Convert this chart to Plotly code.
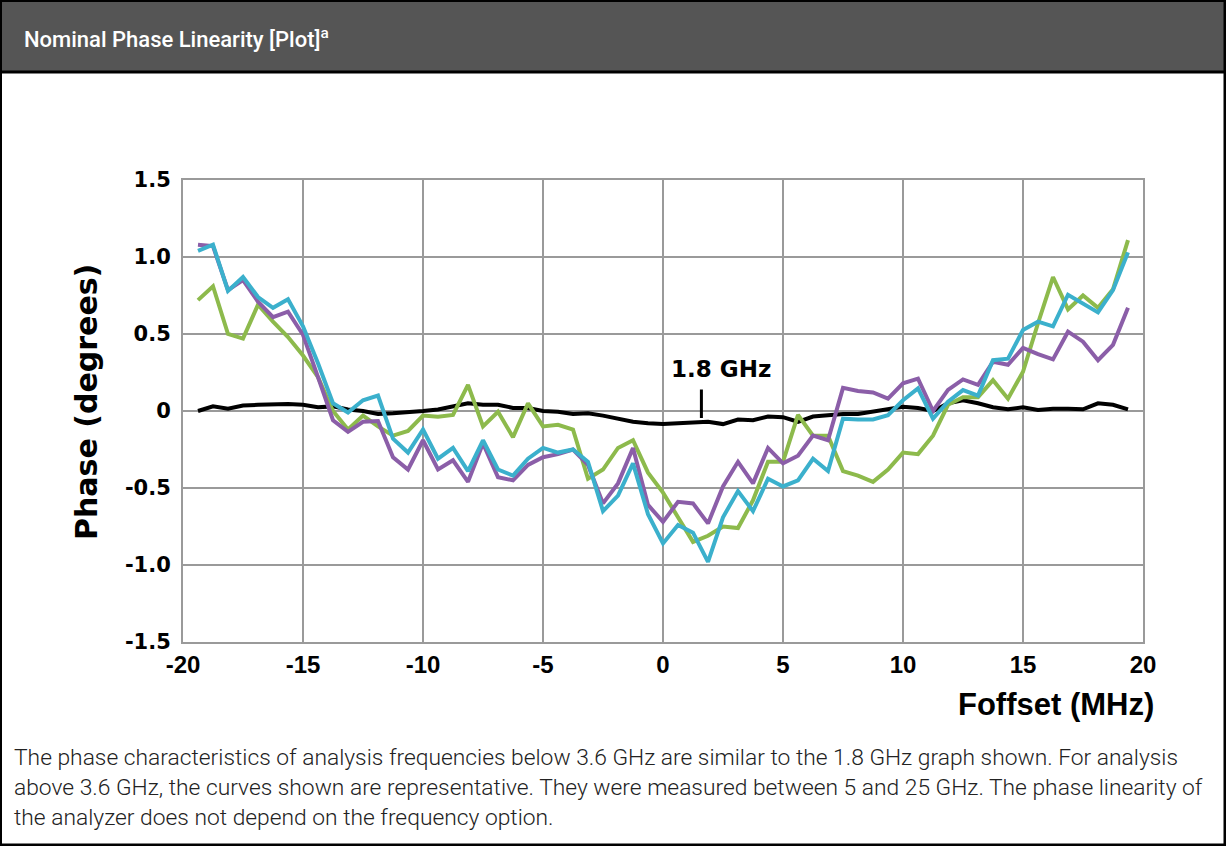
import plotly.graph_objects as go

# frequency offset grid (MHz)
foffset = [-19.375, -18.75, -18.125, -17.5, -16.875, -16.25, -15.625, -15.0,
           -14.375, -13.75, -13.125, -12.5, -11.875, -11.25, -10.625, -10.0,
           -9.375, -8.75, -8.125, -7.5, -6.875, -6.25, -5.625, -5.0,
           -4.375, -3.75, -3.125, -2.5, -1.875, -1.25, -0.625, 0.0,
           0.625, 1.25, 1.875, 2.5, 3.125, 3.75, 4.375, 5.0,
           5.625, 6.25, 6.875, 7.5, 8.125, 8.75, 9.375, 10.0,
           10.625, 11.25, 11.875, 12.5, 13.125, 13.75, 14.375, 15.0,
           15.625, 16.25, 16.875, 17.5, 18.125, 18.75, 19.375]

# phase (degrees), 1.8 GHz curve
phase_1g8 = [0.0, 0.03, 0.015, 0.035, 0.04, 0.045, 0.045, 0.04,
             0.025, 0.03, 0.01, 0.0, -0.02, -0.015, -0.01, 0.0,
             0.01, 0.03, 0.05, 0.04, 0.04, 0.02, 0.02, 0.0,
             -0.005, -0.02, -0.015, -0.03, -0.05, -0.07, -0.08, -0.085,
             -0.08, -0.075, -0.07, -0.085, -0.055, -0.06, -0.036, -0.04,
             -0.07, -0.036, -0.025, -0.02, -0.02, -0.004, 0.017, 0.028,
             0.02, 0.0, 0.05, 0.07, 0.05, 0.024, 0.011, 0.024,
             0.006, 0.015, 0.015, 0.011, 0.05, 0.04, 0.011]

# representative curves above 3.6 GHz
phase_green = [0.72, 0.81, 0.50, 0.47, 0.69, 0.58, 0.48, 0.36,
               0.22, 0.0, -0.12, -0.03, -0.10, -0.16, -0.13, -0.03,
               -0.037, -0.026, 0.17, -0.10, -0.005, -0.17, 0.05, -0.10,
               -0.09, -0.12, -0.44, -0.38, -0.24, -0.19, -0.40, -0.53,
               -0.69, -0.85, -0.81, -0.75, -0.76, -0.58, -0.33, -0.33,
               -0.025, -0.16, -0.16, -0.39, -0.42, -0.46, -0.38, -0.27,
               -0.28, -0.16, 0.04, 0.09, 0.09, 0.20, 0.08, 0.255,
               0.57, 0.87, 0.66, 0.75, 0.67, 0.79, 1.11]

phase_purple = [1.08, 1.07, 0.785, 0.85, 0.71, 0.61, 0.645, 0.495,
                0.22, -0.06, -0.135, -0.07, -0.065, -0.30, -0.38, -0.19,
                -0.38, -0.32, -0.46, -0.21, -0.43, -0.45, -0.35, -0.30,
                -0.28, -0.25, -0.35, -0.60, -0.47, -0.24, -0.61, -0.72,
                -0.59, -0.60, -0.73, -0.49, -0.33, -0.47, -0.24, -0.34,
                -0.29, -0.16, -0.19, 0.15, 0.13, 0.12, 0.08, 0.18,
                0.21, 0.0, 0.137, 0.205, 0.17, 0.32, 0.30, 0.41,
                0.37, 0.335, 0.515, 0.45, 0.33, 0.43, 0.67]

phase_cyan = [1.04, 1.08, 0.78, 0.87, 0.74, 0.67, 0.725, 0.55,
              0.31, 0.05, -0.01, 0.07, 0.10, -0.18, -0.27, -0.12,
              -0.31, -0.24, -0.39, -0.19, -0.38, -0.42, -0.31, -0.24,
              -0.27, -0.25, -0.33, -0.65, -0.55, -0.34, -0.67, -0.86,
              -0.74, -0.79, -0.98, -0.69, -0.52, -0.65, -0.44, -0.49,
              -0.45, -0.31, -0.39, -0.05, -0.055, -0.055, -0.027, 0.07,
              0.147, -0.05, 0.06, 0.136, 0.10, 0.33, 0.34, 0.526,
              0.58, 0.55, 0.755, 0.70, 0.64, 0.785, 1.03]

x_ticks = [-20, -15, -10, -5, 0, 5, 10, 15, 20]
x_ticktext = ["-20", "-15", "-10", "-5", "0", "5", "10", "15", "20"]
y_ticks = [-1.5, -1.0, -0.5, 0, 0.5, 1.0, 1.5]
y_ticktext = ["-1.5", "-1.0", "-0.5", "0", "0.5", "1.0", "1.5"]

W, H = 1226, 846
BOLD = "DejaVu Sans"
NARROW = "Liberation Sans"

fig = go.Figure()

series = [
    (phase_1g8, "#000000"),
    (phase_green, "#8dba4c"),
    (phase_purple, "#8b5ea8"),
    (phase_cyan, "#3bb0cc"),
]
for ys, col in series:
    fig.add_trace(go.Scatter(
        x=foffset, y=ys, mode="lines",
        line=dict(color=col, width=4),
        showlegend=False, hoverinfo="skip",
    ))

fig.update_layout(
    width=W, height=H,
    margin=dict(l=0, r=0, t=0, b=0, autoexpand=False),
    paper_bgcolor="white",
    plot_bgcolor="white",
    xaxis=dict(
        domain=[183 / W, 1143 / W],
        range=[-20, 20],
        tickvals=x_ticks, ticktext=x_ticktext,
        showgrid=True, gridcolor="#9a9a9a", gridwidth=2,
        zeroline=False, automargin=False,
        showline=True, linecolor="#9a9a9a", linewidth=2, mirror=True,
        ticks="", ticklabelstandoff=0,
        tickfont=dict(family=NARROW, size=24, color="black", weight="bold"),
    ),
    yaxis=dict(
        domain=[1 - 642 / H, 1 - 180 / H],
        range=[-1.5, 1.5],
        tickvals=y_ticks, ticktext=y_ticktext,
        showgrid=True, gridcolor="#9a9a9a", gridwidth=2,
        zeroline=False, automargin=False,
        showline=True, linecolor="#9a9a9a", linewidth=2, mirror=True,
        ticks="", ticklabelstandoff=6,
        tickfont=dict(family=BOLD, size=21, color="black", weight="bold"),
    ),
)

# header band and outer border
fig.add_shape(type="rect", xref="paper", yref="paper",
              x0=0, x1=1, y0=1 - 72 / H, y1=1,
              fillcolor="#555555", line=dict(color="black", width=3))
fig.add_shape(type="rect", xref="paper", yref="paper",
              x0=0.5 / W, x1=1 - 1 / W, y0=1 / H, y1=1 - 0.5 / H,
              line=dict(color="black", width=3))

annotations = [
    dict(text="Nominal Phase Linearity [Plot]<sup>a</sup>",
         x=22 / W, y=1 - 38 / H, xanchor="left", yanchor="middle",
         font=dict(family="Roboto", size=22, color="white", weight=500)),
    dict(text="Phase (degrees)", textangle=-90,
         x=86 / W, y=1 - 402 / H, xanchor="center", yanchor="middle",
         font=dict(family=BOLD, size=30, color="black", weight="bold")),
    dict(text="Foffset (MHz)",
         x=1156 / W, y=1 - 704 / H, xanchor="right", yanchor="middle",
         font=dict(family=NARROW, size=31, color="black", weight="bold")),
]
caption = [
    "The phase characteristics of analysis frequencies below 3.6 GHz are similar to the 1.8 GHz graph shown. For analysis",
    "above 3.6 GHz, the curves shown are representative. They were measured between 5 and 25 GHz. The phase linearity of",
    "the analyzer does not depend on the frequency option.",
]
for i, line in enumerate(caption):
    annotations.append(dict(
        text=line, x=12 / W, y=1 - (757 + 30 * i) / H,
        xanchor="left", yanchor="middle",
        font=dict(family="Roboto", size=22.8, color="#222222", weight=300)))
for a in annotations:
    a.update(xref="paper", yref="paper", showarrow=False)
    fig.add_annotation(**a)

# 1.8 GHz label with its pointer
fig.add_annotation(x=2.4, y=0.27, text="1.8 GHz", showarrow=False,
                   font=dict(family=BOLD, size=23, color="black", weight="bold"))
fig.add_annotation(x=1.6, y=-0.045, text="", showarrow=True,
                   ax=0, ay=-30, arrowhead=0, arrowwidth=3, arrowcolor="black")

# drop the default page margin so the figure fills the window
fig.write_html("out.html", config={"displayModeBar": False},
               post_script="document.body.style.margin = '0';")
